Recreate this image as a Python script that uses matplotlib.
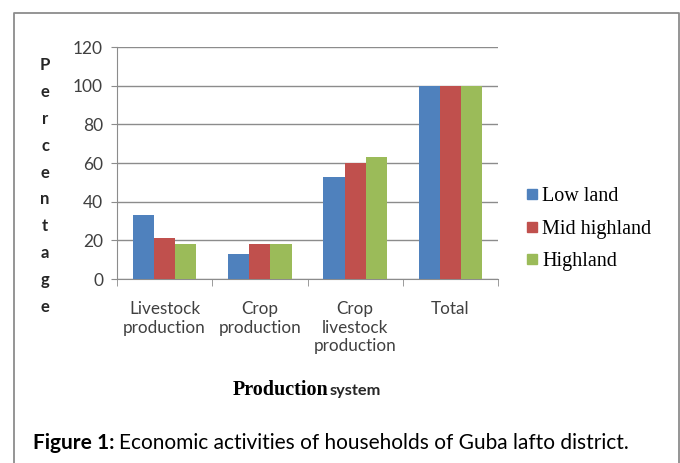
import matplotlib
matplotlib.use("Agg")
import matplotlib.pyplot as plt
import numpy as np
from matplotlib.lines import Line2D

# données
categories = ["Livestock\nproduction", "Crop\nproduction", "Crop\nlivestock\nproduction", "Total"]
low_land = [33, 13, 53, 100]
mid_highland = [21, 18, 60, 100]
highland = [18, 18, 63, 100]
series_names = ["Low land", "Mid highland", "Highland"]
colors = ["#4F81BD", "#C0504D", "#9BBB59"]
yticks = [0, 20, 40, 60, 80, 100, 120]

sans = "Lato"
serif = "Liberation Serif"

fig = plt.figure(figsize=(6.8, 4.63), dpi=100)
ax = fig.add_axes([117 / 680, 1 - 279 / 463, 381 / 680, 232 / 463])

x = np.arange(len(categories))
w = 0.222
for i, vals in enumerate([low_land, mid_highland, highland]):
    ax.bar(x + (i - 1) * w, vals, w, color=colors[i], label=series_names[i], zorder=3)

ax.set_xlim(-0.5, len(categories) - 0.5)
ax.set_ylim(0, 120)
ax.set_yticks(yticks)
ax.yaxis.grid(True, color="#8c8c8c", linewidth=1, zorder=0)
for s in ["top", "right"]:
    ax.spines[s].set_visible(False)
for s in ["left", "bottom"]:
    ax.spines[s].set_color("#8c8c8c")
ax.tick_params(axis="y", length=4, color="#8c8c8c", labelsize=12.5, labelcolor="#404040", pad=6)
ax.set_xticks(x)
ax.set_xticklabels(categories, fontsize=12.3, color="#404040", linespacing=1.2)
ax.set_xticks(np.arange(-0.5, len(categories)), minor=True)
ax.tick_params(axis="x", which="major", length=0, pad=16)
ax.tick_params(axis="x", which="minor", length=5, color="#8c8c8c")
for lab in ax.get_xticklabels() + ax.get_yticklabels():
    lab.set_fontfamily(sans)
for lab in ax.get_xticklabels():
    lab.set_verticalalignment("top")

# légende
handles = [Line2D([], [], marker="s", linestyle="none", markersize=7,
                  markerfacecolor=c, markeredgecolor=c) for c in colors]
fig.legend(handles, series_names, loc="upper left", bbox_to_anchor=(504 / 680, 1 - 169 / 463),
           frameon=False, prop={"family": serif, "size": 14.5}, handletextpad=0.0,
           handlelength=1.0, labelspacing=0.66)

# titre de l'axe y, une lettre par ligne
ylabel = "Percentage"
for k, ch in enumerate(ylabel):
    fig.text(45 / 680, 1 - (65 + k * 26.9) / 463, ch, ha="center", va="center",
             fontsize=12, fontweight="bold", family=sans, color="#262626")

# titre de l'axe x
fig.text(328 / 680, 1 - 390 / 463, "Production", ha="right", va="center",
         fontsize=14.5, fontweight="bold", family=serif, color="black")
fig.text(330 / 680, 1 - 391 / 463, "system", ha="left", va="center",
         fontsize=11.8, fontweight="bold", family=sans, color="#262626")

# cadre
fig.add_artist(Line2D([14 / 680, 14 / 680, 679 / 680, 679 / 680],
                      [0, 1 - 13 / 463, 1 - 13 / 463, 0], color="#8c8c8c", linewidth=1.3))

# légende de la figure
t1 = fig.text(33 / 680, 1 - 443 / 463, "Figure 1:", ha="left", va="center",
              fontsize=15, fontweight="bold", family=sans, color="black")
fig.canvas.draw()
bb = t1.get_window_extent()
fig.text((bb.x1 + 5) / 680, 1 - 443 / 463, "Economic activities of households of Guba lafto district.",
         ha="left", va="center", fontsize=15, family=sans, color="black")

fig.savefig("out.png", dpi=100)
